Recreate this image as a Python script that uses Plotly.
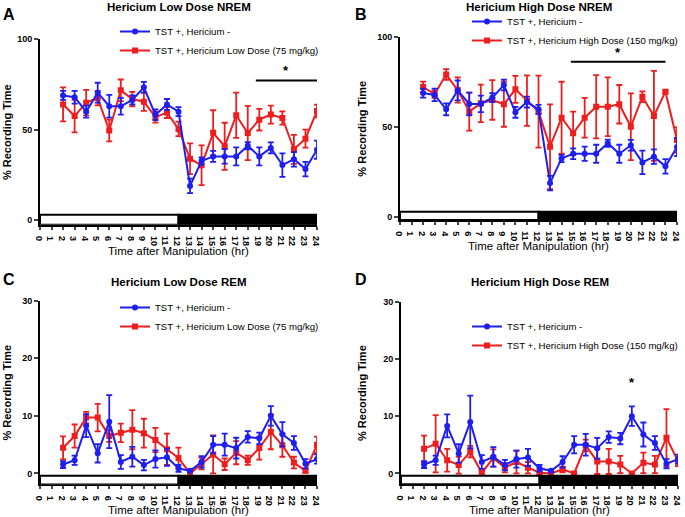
import plotly.graph_objects as go

W, H = 685, 517
FONT = "Liberation Sans, Arial, sans-serif"
BLUE = "#1E1EF0"
RED = "#EE1E1E"

hours = list(range(2, 25))
xtick_vals = list(range(0, 25))

# NREM (% recording time)
nrem_ctrl = [69, 68, 60, 70.5, 63, 63, 66.5, 73.5, 58.3, 64, 60, 19, 32.7, 35.3, 35.3, 35.3, 41.2, 35.3, 40, 30.5, 33.7, 28.3, 39]
nrem_ctrl_err = [2.5, 3.5, 3.3, 5.5, 6.3, 4.6, 2.5, 3, 3, 3, 2.5, 4, 2, 3, 4, 5, 2, 5, 3, 6.5, 4, 4, 5]
nrem_low = [64, 57.6, 65, 67.5, 49.6, 71.8, 67, 65.5, 57, 59.5, 50.5, 34, 30.4, 48.3, 40.9, 58, 48.2, 55.6, 58.4, 56.5, 39.2, 45.1, 60.4]
nrem_low_err = [9.4, 9, 7, 4, 6, 6, 4, 5, 3, 3, 4, 8.5, 11, 12.5, 13, 12.5, 15, 6, 5, 3.7, 8, 5, 3.5]
nrem_high = [72.4, 68.4, 79.3, 70.7, 58.7, 63.3, 65.2, 62.8, 71.1, 64.8, 58.7, 39.2, 55.3, 46.7, 55.3, 61.4, 61.4, 62.8, 50.3, 67, 56.3, 69.8, 43]
nrem_high_err = [3, 2, 3, 7, 10.6, 10.4, 11, 12.5, 7.5, 14, 20, 23.5, 20, 12, 11, 17.6, 16.3, 10.7, 18.5, 3, 25, 1, 7]

# REM (% recording time)
rem_ctrl = [1.55, 2.3, 8.3, 3.5, 9.0, 2.0, 2.9, 1.45, 2.5, 2.8, 0.9, 0.45, 2.0, 5.0, 5.0, 4.4, 6.35, 6.1, 10.0, 6.8, 5.3, 1.7, 2.5]
rem_ctrl_err = [0.6, 0.8, 2.0, 1.6, 4.6, 1.2, 1.7, 0.9, 1.5, 1.5, 0.6, 0.2, 1.0, 1.5, 1.9, 1.8, 1.0, 1.0, 1.7, 2.1, 1.2, 0.8, 0.8]
rem_low = [4.45, 6.5, 9.7, 9.7, 6.5, 7.05, 7.6, 7.0, 5.8, 4.2, 2.7, 0.0, 1.7, 3.3, 1.6, 3.6, 2.3, 4.4, 7.2, 4.9, 1.9, 0.45, 5.0]
rem_low_err = [2.0, 2.0, 1.0, 2.4, 1.0, 1.6, 3.4, 2.5, 2.1, 2.7, 1.8, 0.3, 1.0, 3.3, 1.0, 2.0, 0.8, 2.0, 3.0, 2.0, 1.0, 0.3, 1.4]
rem_high = [4.3, 5.2, 2.3, 1.45, 3.8, 0.1, 2.7, 1.0, 2.0, 1.0, 0.1, 0.0, 0.7, 0.0, 4.9, 2.1, 2.1, 1.55, 0.0, 1.85, 1.55, 6.25, 2.1]
rem_high_err = [2.3, 5.0, 2.0, 1.5, 1.0, 0.3, 1.5, 0.8, 2.0, 1.0, 0.3, 0.2, 0.5, 0.2, 1.0, 2.2, 2.2, 1.5, 0.2, 1.8, 1.5, 5.0, 0.8]

ctrl_name = "TST +, Hericium -"
low_name = "TST +, Hericium Low Dose (75 mg/kg)"
high_name = "TST +, Hericium High Dose (150 mg/kg)"

titles = ["Hericium Low Dose NREM", "Hericium High Dose NREM", "Hericium Low Dose REM", "Hericium High Dose REM"]
letters = ["A", "B", "C", "D"]

# significance markers
sigA_span = [18.7, 24.0]; sigA_y = 77.3
sigB_span = [14.8, 23.0]; sigB_y = 86.4
sigD_x = 20; sigD_y = 14.2

def px_x(p):
    return p / W

def px_y(p):
    return 1 - p / H

panels = [
    dict(x=(40, 317), y=(39.3, 224.8), yr=[-2.5, 100], tv=[0, 50, 100], bar=(-2.5, 3.0)),
    dict(x=(400, 677), y=(37.3, 220.0), yr=[-1.5, 100], tv=[0, 50, 100], bar=(-1.5, 3.1)),
    dict(x=(40, 317), y=(300.7, 484.4), yr=[-1.9, 30], tv=[0, 10, 20, 30], bar=(-1.9, -0.4)),
    dict(x=(401, 678), y=(301.7, 484.3), yr=[-1.9, 30], tv=[0, 10, 20, 30], bar=(-1.9, -0.4)),
]

series = [
    (nrem_low, nrem_low_err, low_name, nrem_ctrl, nrem_ctrl_err),
    (nrem_high, nrem_high_err, high_name, nrem_ctrl, nrem_ctrl_err),
    (rem_low, rem_low_err, low_name, rem_ctrl, rem_ctrl_err),
    (rem_high, rem_high_err, high_name, rem_ctrl, rem_ctrl_err),
]

fig = go.Figure()
layout = dict(width=W, height=H, margin=dict(l=0, r=0, t=0, b=0, autoexpand=False),
              plot_bgcolor="white", paper_bgcolor="white",
              font=dict(family=FONT, color="black"), showlegend=True)
shapes = []
annotations = []
# legend top-left corners (px)
legend_pos = [(115, 17), (467, 7), (115, 293), (467, 312)]

for i, (pn, (tv_vals, tv_err, tname, cv, ce)) in enumerate(zip(panels, series)):
    n = "" if i == 0 else str(i + 1)
    xa, ya = "x" + n, "y" + n
    lg = "legend" + n
    fig.add_trace(go.Scatter(x=hours, y=tv_vals, name=tname, xaxis=xa, yaxis=ya, legend=lg,
                             mode="lines+markers", line=dict(color=RED, width=2),
                             marker=dict(symbol="square", size=6, color=RED),
                             error_y=dict(type="data", array=tv_err, color=RED, thickness=1.8, width=3),
                             legendrank=2))
    fig.add_trace(go.Scatter(x=hours, y=cv, name=ctrl_name, xaxis=xa, yaxis=ya, legend=lg,
                             mode="lines+markers", line=dict(color=BLUE, width=2),
                             marker=dict(symbol="circle", size=6, color=BLUE),
                             error_y=dict(type="data", array=ce, color=BLUE, thickness=1.8, width=3),
                             legendrank=1))

    layout["xaxis" + n] = dict(domain=[px_x(pn["x"][0]), px_x(pn["x"][1])], anchor=ya,
                               range=[0, 24], tickvals=xtick_vals, ticks="outside", ticklen=3,
                               tickwidth=1.5, showline=True, linecolor="black", linewidth=2,
                               showgrid=False, zeroline=False, automargin=False,
                               tickfont=dict(size=9, weight="bold", family=FONT))
    layout["yaxis" + n] = dict(domain=[px_y(pn["y"][1]), px_y(pn["y"][0])], anchor=xa,
                               range=pn["yr"], tickvals=pn["tv"], ticks="outside", ticklen=4,
                               tickwidth=1.5, showline=True, linecolor="black", linewidth=2,
                               showgrid=False, zeroline=False, automargin=False,
                               tickfont=dict(size=9, weight="bold", family=FONT))
    lx, ly = legend_pos[i]
    layout[lg] = dict(x=px_x(lx), y=px_y(ly), xanchor="left", yanchor="top",
                      bgcolor="rgba(0,0,0,0)", font=dict(size=9.6, family=FONT),
                      itemwidth=30, traceorder="normal", tracegroupgap=0)
    b0, b1 = pn["bar"]
    shapes.append(dict(type="rect", xref=xa, yref=ya, x0=0, x1=12, y0=b0, y1=b1,
                       fillcolor="white", line=dict(color="black", width=2)))
    shapes.append(dict(type="rect", xref=xa, yref=ya, x0=12, x1=24, y0=b0, y1=b1,
                       fillcolor="black", line=dict(color="black", width=2)))
    cx = (pn["x"][0] + pn["x"][1]) / 2
    ty = 7 if i < 2 else 282
    annotations.append(dict(text="<b>" + titles[i] + "</b>", x=px_x(cx - 0), y=px_y(ty),
                            xref="paper", yref="paper", showarrow=False, xanchor="center",
                            yanchor="middle", font=dict(size=11.5, family=FONT)))
    lxp = 9 if i % 2 == 0 else 361
    lyp = 14 if i < 2 else 279
    annotations.append(dict(text="<b>" + letters[i] + "</b>", x=px_x(lxp), y=px_y(lyp),
                            xref="paper", yref="paper", showarrow=False, xanchor="center",
                            yanchor="middle", font=dict(size=16, family=FONT)))
    ytx = 7 if i % 2 == 0 else 362
    annotations.append(dict(text="<b>% Recording Time</b>", x=px_x(ytx),
                            y=px_y((pn["y"][0] + pn["y"][1]) / 2), textangle=-90,
                            xref="paper", yref="paper", showarrow=False, xanchor="center",
                            yanchor="middle", font=dict(size=11, family=FONT)))
    annotations.append(dict(text="Time after Manipulation (hr)", x=px_x(cx), y=px_y(pn["y"][1] + 26),
                            xref="paper", yref="paper", showarrow=False, xanchor="center",
                            yanchor="middle", font=dict(size=11.5, family=FONT)))

shapes.append(dict(type="line", xref="x", yref="y", x0=sigA_span[0], x1=sigA_span[1],
                   y0=sigA_y, y1=sigA_y, line=dict(color="black", width=2)))
annotations.append(dict(text="<b>*</b>", x=sum(sigA_span) / 2, y=sigA_y, xref="x", yref="y",
                        showarrow=False, yanchor="bottom", font=dict(size=13, family=FONT)))
shapes.append(dict(type="line", xref="x2", yref="y2", x0=sigB_span[0], x1=sigB_span[1],
                   y0=sigB_y, y1=sigB_y, line=dict(color="black", width=2)))
annotations.append(dict(text="<b>*</b>", x=sum(sigB_span) / 2, y=sigB_y, xref="x2", yref="y2",
                        showarrow=False, yanchor="bottom", font=dict(size=13, family=FONT)))
annotations.append(dict(text="<b>*</b>", x=sigD_x, y=sigD_y, xref="x4", yref="y4",
                        showarrow=False, yanchor="bottom", font=dict(size=13, family=FONT)))

layout["shapes"] = shapes
layout["annotations"] = annotations
fig.update_layout(**layout)
fig.write_html("out.html", config={"displayModeBar": False},
               post_script="document.body.style.margin='0px';")
